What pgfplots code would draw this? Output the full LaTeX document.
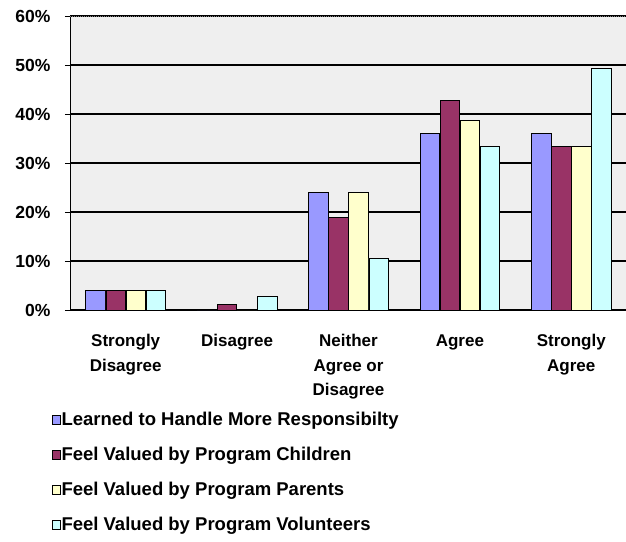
\documentclass[border=0pt]{standalone}
\usepackage{fontspec}
\setmainfont{Liberation Sans}
\usepackage{pgfplots}
\pgfplotsset{compat=1.18}
\definecolor{c1}{HTML}{9999FF}
\definecolor{c2}{HTML}{993366}
\definecolor{c3}{HTML}{FFFFCC}
\definecolor{c4}{HTML}{CCFFFF}
\definecolor{wall}{HTML}{EFEFEF}
\begin{document}
\begin{tikzpicture}
\useasboundingbox (0pt,0pt) rectangle (626pt,541pt);
\begin{axis}[
  at={(70pt,231pt)}, anchor=south west,
  scale only axis, width=557pt, height=294pt,
  ybar=0.6pt, bar width=19.5pt,
  xmin=-0.5, xmax=4.5, ymin=0, ymax=60,
  axis background/.style={fill=wall},
  axis lines=left, axis line style={-, black, line width=1pt},
  xtick={0,...,4},
  xticklabels={{Strongly\\Disagree},Disagree,{Neither\\Agree or\\Disagree},Agree,{Strongly\\Agree}},
  xticklabel style={align=center, font=\fontsize{17}{24.5}\selectfont\bfseries, yshift=-16pt},
  xtick style={draw=none},
  extra x ticks={0.5,1.5,2.5,3.5},
  extra x tick labels={},
  extra x tick style={tick align=outside, major tick length=7pt, tick style={draw=black, line width=1pt}},
  ytick={0,10,...,60},
  yticklabel={\pgfmathprintnumber{\tick}\%},
  yticklabel style={font=\fontsize{17.5}{18}\selectfont\bfseries, xshift=-11pt},
  /pgf/number format/assume math mode=true,
  ytick style={black, line width=1pt}, tick align=outside, major tick length=5pt,
  ymajorgrids, grid style={black, line width=1.2pt},
  every axis plot/.append style={draw=black, line width=0.8pt},
  every axis plot post/.append style={legend image code/.code={
    \draw[#1, line width=0.8pt] (0pt,-4.5pt) rectangle (8.5pt,4.5pt);}},
  legend style={at={(axis description cs:-0.0332,-0.337)}, anchor=north west,
    draw=none, fill=none, inner sep=0pt, font=\fontsize{18.5}{20}\selectfont\bfseries,
    row sep=13pt, legend cell align=left,
    nodes={text height=14pt, text depth=4pt, inner xsep=0.5pt, inner ysep=2pt},
    /tikz/every even column/.style={column sep=0pt}},
]
\addplot[fill=c1] coordinates {(0,4) (1,0) (2,24) (3,36) (4,36)};
\addplot[fill=c2] coordinates {(0,4) (1,1.2) (2,18.8) (3,42.7) (4,33.3)};
\addplot[fill=c3] coordinates {(0,4) (1,0) (2,24) (3,38.6) (4,33.3)};
\addplot[fill=c4] coordinates {(0,4) (1,2.7) (2,10.6) (3,33.3) (4,49.3)};
\draw[densely dotted, gray, line width=1pt] (rel axis cs:0,1) -- (rel axis cs:1,1);
\legend{Learned to Handle More Responsibilty, Feel Valued by Program Children, Feel Valued by Program Parents, Feel Valued by Program Volunteers}
\end{axis}
\end{tikzpicture}
\end{document}
